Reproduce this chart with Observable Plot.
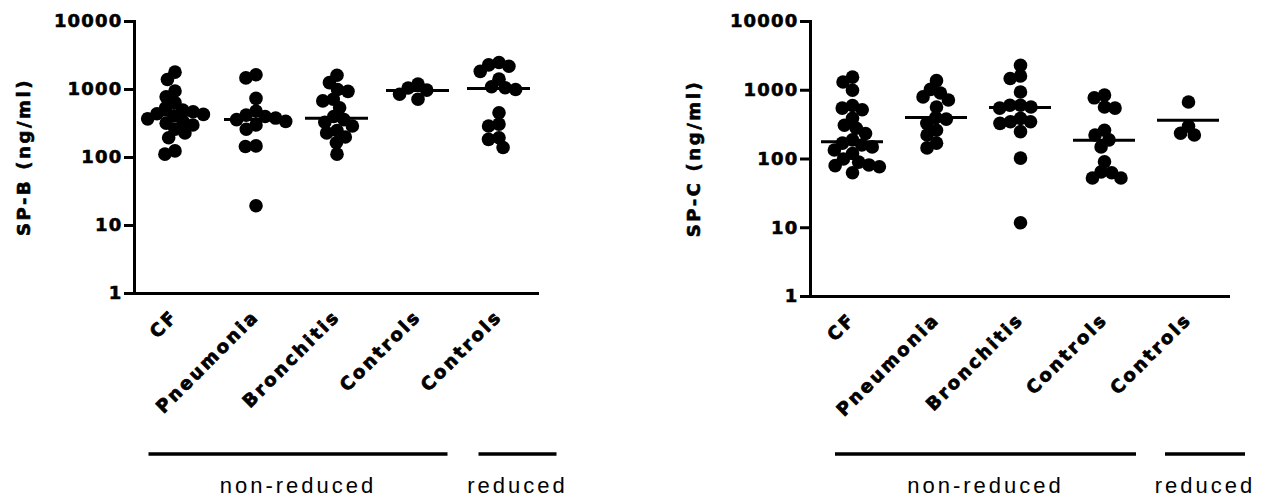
<!DOCTYPE html>
<html><head><meta charset="utf-8">
<script src="https://cdn.jsdelivr.net/npm/d3@7"></script>
<script src="https://cdn.jsdelivr.net/npm/@observablehq/plot@0.6"></script>
<style>
body{margin:0;background:#fff;}
#wrap{display:flex;width:1262px;height:498px;overflow:hidden;}
</style></head><body><div id="wrap"></div>
<script>
// ---- data ----
const groupKeys = ["CF", "Pneumonia", "Bronchitis", "Controls", "Controls (reduced)"];
const groupLabels = ["CF", "Pneumonia", "Bronchitis", "Controls", "Controls"];
const yTicks = [1, 10, 100, 1000, 10000];

// SP-B (ng/ml)
const spbCF = [1800, 1400, 950, 780, 640, 540, 500, 470, 440, 430, 410, 370, 340, 320, 300, 260, 230, 195, 125, 112];
const spbPneumonia = [1650, 1480, 740, 480, 420, 400, 380, 360, 340, 300, 260, 148, 145, 19.5];
const spbBronchitis = [1620, 1260, 1000, 940, 720, 680, 540, 400, 360, 330, 290, 250, 230, 200, 165, 112];
const spbControls = [1200, 1050, 980, 850, 720];
const spbControlsReduced = [2500, 2300, 2200, 1850, 1420, 1100, 1060, 1000, 455, 310, 290, 195, 185, 140];
const spbMedians = [421, 363, 377, 970, 1038];

// SP-C (ng/ml)
const spcCF = [1550, 1320, 1000, 600, 550, 520, 390, 310, 280, 235, 190, 170, 160, 150, 135, 120, 100, 90, 82, 80, 77, 63];
const spcPneumonia = [1380, 1030, 910, 800, 720, 570, 400, 380, 330, 262, 223, 170, 145];
const spcBronchitis = [2300, 1610, 1480, 945, 605, 605, 570, 550, 390, 348, 348, 330, 250, 103, 11.8];
const spcControls = [850, 776, 570, 550, 262, 223, 190, 150, 91, 65, 63, 53, 53];
const spcControlsReduced = [676, 300, 237, 223];
const spcMedians = [178, 400, 560, 188, 367];

const bracketLabels = ["non-reduced", "reduced"];
const bracketFrom = ["CF", "Controls (reduced)"];
const bracketTo = ["Controls", "Controls (reduced)"];

// ---- drawing ----
function panel(cfg) {
  const points = groupKeys.flatMap((k, i) => cfg.series[i].map(v => ({group: k, value: v})));
  const meds = groupKeys.map((k, i) => ({group: k, value: cfg.medians[i]}));
  const plot = Plot.plot({
    width: cfg.width, height: 498,
    marginTop: 21, marginLeft: cfg.marginLeft, marginRight: cfg.marginRight, marginBottom: cfg.marginBottom,
    style: {fontFamily: "DejaVu Sans", fontWeight: "bold", fontSize: "18px", color: "#000", background: "#fff", overflow: "visible"},
    fx: {domain: groupKeys, padding: 0, label: null, axis: null},
    y: {type: "log", domain: [1, 10000], axis: null},
    marks: [
      Plot.axisY({ticks: yTicks, tickFormat: d => String(d), tickSize: 10, tickPadding: 2, strokeWidth: 3, label: null, fontSize: 18}),
      Plot.axisFx({anchor: "bottom", tickSize: 0, tickPadding: cfg.labelPad, tickRotate: -45, label: null,
        tickFormat: k => groupLabels[groupKeys.indexOf(k)], fontSize: 18}),
      Plot.frame({anchor: "left", strokeWidth: 3, facetAnchor: "left"}),
      Plot.ruleY([1], {strokeWidth: 3}),
      Plot.dot(points, Plot.dodgeX({anchor: "middle", padding: cfg.dodgePad}, {fx: "group", y: "value", r: 6.8, fill: "black", stroke: "none"})),
      Plot.tickY(meds, {fx: "group", y: "value", strokeWidth: 3, insetLeft: cfg.inset, insetRight: cfg.inset})
    ]
  });
  const svg = d3.select(plot.tagName.toLowerCase() === "svg" ? plot : plot.querySelector("svg"));
  svg.selectAll('g[aria-label="y-axis tick label"] text')
    .style("letter-spacing", "1.2px").style("stroke", "black").style("stroke-width", "0.6px");
  svg.selectAll('g[aria-label="fx-axis tick label"] text')
    .style("letter-spacing", "2.6px").style("stroke", "black").style("stroke-width", "0.8px");
  const sx = Plot.scale({x: {...plot.scale("fx")}});
  const center = k => sx.apply(k) + sx.bandwidth / 2;
  const yr = plot.scale("y").range;
  // y title
  svg.append("text")
    .attr("transform", `translate(${cfg.titleX},${(yr[0] + yr[1]) / 2}) rotate(-90)`)
    .attr("text-anchor", "middle").attr("dominant-baseline", "middle")
    .style("font-size", "18px").style("font-weight", "bold").style("letter-spacing", "2.6px")
    .style("stroke", "black").style("stroke-width", "0.6px")
    .text(cfg.title);
  // group brackets
  bracketLabels.forEach((lab, i) => {
    const x1 = center(bracketFrom[i]) + cfg.ext[i][0];
    const x2 = center(bracketTo[i]) + cfg.ext[i][1];
    svg.append("line").attr("x1", x1).attr("x2", x2).attr("y1", 454).attr("y2", 454)
      .attr("stroke", "black").attr("stroke-width", 3.5);
    svg.append("text").attr("x", (x1 + x2) / 2).attr("y", 493).attr("text-anchor", "middle")
      .style("font-family", "Liberation Sans").style("font-weight", "normal").style("font-size", "22px")
      .style("letter-spacing", "3px").text(lab);
  });
  return plot;
}

const wrap = document.getElementById("wrap");
wrap.append(panel({
  series: [spbCF, spbPneumonia, spbBronchitis, spbControls, spbControlsReduced],
  medians: spbMedians, title: "SP-B (ng/ml)",
  width: 631, marginLeft: 132, marginRight: 90, marginBottom: 205,
  inset: 9, dodgePad: -3, labelPad: 20, titleX: 25,
  ext: [[-26, 30], [-20, 58]]
}));
wrap.append(panel({
  series: [spcCF, spcPneumonia, spcBronchitis, spcControls, spcControlsReduced],
  medians: spcMedians, title: "SP-C (ng/ml)",
  width: 631, marginLeft: 177, marginRight: 30, marginBottom: 202,
  inset: 11, dodgePad: -3, labelPad: 20, titleX: 64,
  ext: [[-17, 32], [-23, 57]]
}));
</script></body></html>
